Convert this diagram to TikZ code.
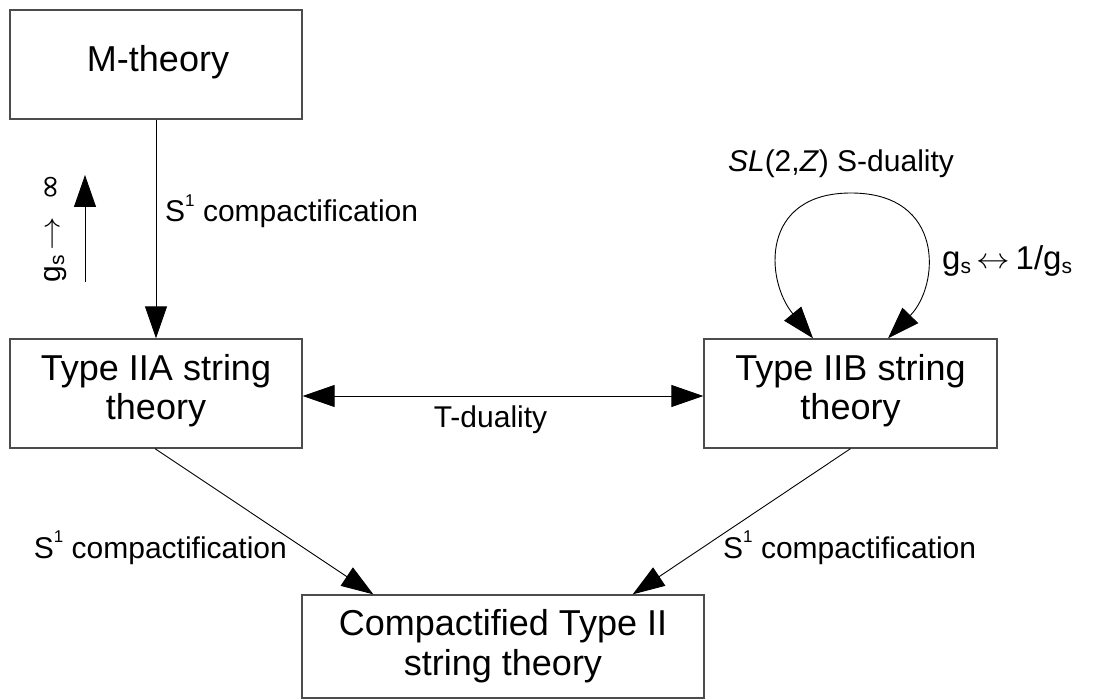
\documentclass[tikz,border=0pt]{standalone}
\usepackage{fontspec}
\usepackage{graphicx}
\setmainfont{Liberation Sans}
\newfontfamily\dejavu{DejaVu Sans}
\usetikzlibrary{arrows.meta}
\newcommand{\supone}{\raisebox{0.95ex}{\fontsize{17}{17}\selectfont 1}}
\newcommand{\subs}{\raisebox{-0.2ex}{\fontsize{21}{21}\selectfont s}}
\newcommand{\thinarr}[1]{\raisebox{0.1ex}{\scalebox{1.35}[1.15]{$#1$}}}
\begin{document}
\begin{tikzpicture}[x=1pt,y=-1pt,
  box/.style={draw=black!70, line width=1.3pt, fill=none, inner sep=0pt},
  big/.style={font=\fontsize{36}{40}\selectfont, inner sep=0pt, anchor=base},
  small/.style={font=\fontsize{30}{34}\selectfont, inner sep=0pt},
  arr/.style={line width=0.9pt, -{Triangle[length=32pt,width=22pt]}},
  dbl/.style={line width=0.9pt, {Triangle[length=32pt,width=22pt]}-{Triangle[length=32pt,width=22pt]}}]
\fill[white] (0,0) rectangle (1094,700);
\useasboundingbox (0,0) rectangle (1094,700);
% boxes
\node[box, minimum width=292pt, minimum height=109pt] (m) at (156,64.5) {};
\node[box, minimum width=292pt, minimum height=109pt] (a) at (156,393.5) {};
\node[box, minimum width=293pt, minimum height=109pt] (b) at (850.5,393.5) {};
\node[box, minimum width=402pt, minimum height=103pt] (c) at (503,646.5) {};
% box texts
\node[big] (mt) at (158,72) {M-theory};
\node[big] (at1) at (156,380) {Type IIA string};
\node[big] (at2) at (156,419) {theory};
\node[big] (bt1) at (850.5,380) {Type IIB string};
\node[big] (bt2) at (850.5,419) {theory};
\node[big] (ct1) at (503,635) {Compactified Type II};
\node[big] (ct2) at (503,675) {string theory};
% connectors
\draw[arr] (m.south) -- (a.north);
\draw[dbl] ([yshift=-2.5pt]a.east) -- ([yshift=-2.5pt]b.west);
\draw[arr] ([xshift=-1pt]a.south) -- ([xshift=72pt]c.north west);
\draw[arr] (b.south) -- ([xshift=-72pt]c.north east);
\coordinate (looptop) at (851,193);
\draw[dbl] ([xshift=-37.5pt]b.north) .. controls (765,280) and (760,193) .. (looptop)
   .. controls (945,193) and (940,285) .. ([xshift=37.5pt]b.north);
% free arrow on the left
\coordinate (gbot) at (85,282);
\coordinate (gtop) at (85,175);
\draw[arr] (gbot) -- (gtop);
% labels
\node[small, anchor=base west] (l1) at (165,222) {S\supone\ compactification};
\node[small, anchor=base] (l2) at (490.5,427) {T-duality};
\node[small, anchor=base] (l3) at (841,172) {\textit{SL}(2,\textit{Z}) S-duality};
\node[small, font=\fontsize{33}{36}\selectfont, anchor=base west] (l4) at (942,270) {g\subs\,\thinarr{\leftrightarrow}\,1/g\subs};
\node[small, anchor=base east] (l5) at (287,558) {S\supone\ compactification};
\node[small, anchor=base west] (l6) at (723,558) {S\supone\ compactification};
\node[small, rotate=90] (l7) at (56,228) {g\subs\,\thinarr{\rightarrow}\hspace{16pt}{\dejavu\fontsize{32}{32}\selectfont ∞}};
\end{tikzpicture}
\end{document}
